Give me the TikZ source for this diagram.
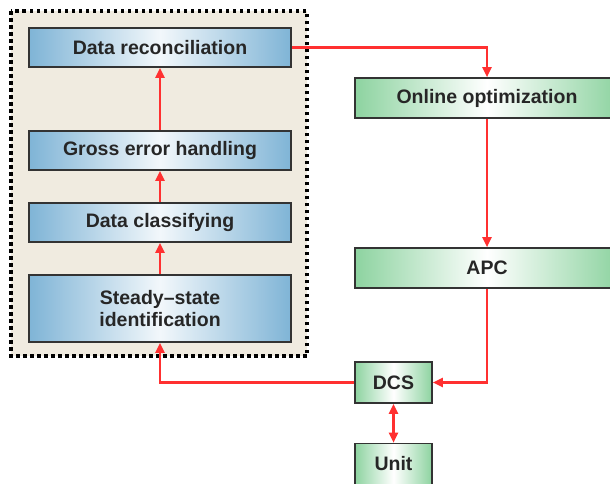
\documentclass[tikz,border=0pt]{standalone}
\usepackage{fontspec}
\setmainfont{Liberation Sans}
\usetikzlibrary{arrows.meta,shadings}
\definecolor{bluebox}{HTML}{7FB4D6}
\definecolor{greenbox}{HTML}{8DD3A0}
\definecolor{beige}{HTML}{F0EBE0}
\definecolor{arrred}{HTML}{FF3030}
\tikzset{
  bluestep/.style={draw=black!80, line width=1.6pt, left color=bluebox, right color=bluebox, middle color=white!90!bluebox, inner sep=0pt, font=\bfseries\fontsize{19.5}{22}\selectfont, align=center, text=black!85},
  greenstep/.style={draw=black!80, line width=1.6pt, left color=greenbox, right color=greenbox, middle color=white, inner sep=0pt, font=\bfseries\fontsize{19.5}{22}\selectfont, align=center, text=black!85},
  flow/.style={draw=arrred, line width=2.2pt, -{Triangle[length=10pt,width=9pt]}},
  flow2/.style={draw=arrred, line width=2.2pt, {Triangle[length=10pt,width=9pt]}-{Triangle[length=10pt,width=9pt]}}
}
\begin{document}
\begin{tikzpicture}[x=1pt,y=-1pt]
\useasboundingbox (0,0) rectangle (610,483);
\clip (0,0) rectangle (610,483);
\fill[white] (0,0) rectangle (610,483);
% frame
\draw[fill=beige, line width=3.5pt, dash pattern=on 3.5pt off 3.5pt] (11,11) rectangle (307,356);
% blue boxes
\node[bluestep, minimum width=262pt, minimum height=39pt] (dr) at (160,47.5) {Data reconciliation};
\node[bluestep, minimum width=262pt, minimum height=39pt] (ge) at (160,150.5) {Gross error handling};
\node[bluestep, minimum width=262pt, minimum height=39pt] (dc) at (160,222.5) {Data classifying};
\node[bluestep, minimum width=262pt, minimum height=67pt] (ss) at (160,308.5) {Steady–state\\[0pt]identification};
% green boxes
\node[greenstep, minimum width=264pt, minimum height=40pt] (oo) at (487,98) {Online optimization};
\node[greenstep, minimum width=264pt, minimum height=40pt] (apc) at (487,268) {APC};
\node[greenstep, minimum width=77pt, minimum height=41pt] (dcs) at (393.5,382.5) {DCS};
\node[greenstep, minimum width=77pt, minimum height=41pt] (unit) at (393.5,464) {Unit};
% coordinates
\coordinate (c1) at (487,47.5);
\coordinate (c2) at (487,382.5);
\coordinate (c3) at (160,382.5);
% connectors
\draw[flow] (ss.north) -- (dc.south);
\draw[flow] (dc.north) -- (ge.south);
\draw[flow] (ge.north) -- (dr.south);
\draw[flow] (dr.east) -- (c1) -- (oo.north);
\draw[flow] (oo.south) -- (apc.north);
\draw[flow] (apc.south) -- (c2) -- (dcs.east);
\draw[flow] (dcs.west) -- (c3) -- (ss.south);
\draw[flow2] (dcs.south) -- (unit.north);
\end{tikzpicture}
\end{document}
